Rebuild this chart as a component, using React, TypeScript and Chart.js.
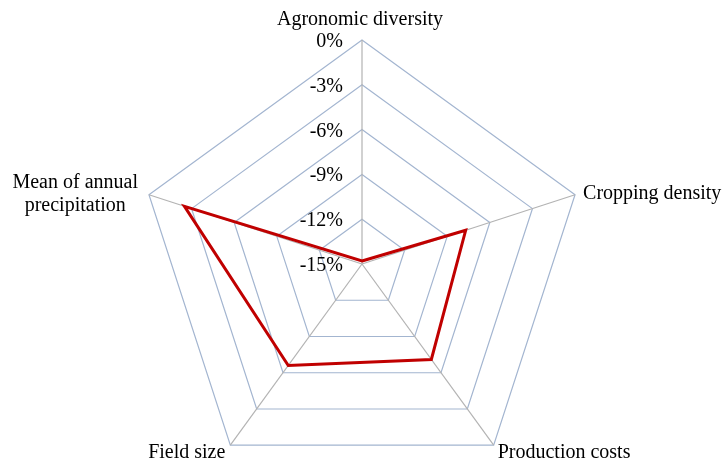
import React, { useEffect, useRef } from "react";
import { Chart, registerables } from "chart.js";

Chart.register(...registerables);

const categories: (string | string[])[] = [
  "Agronomic diversity",
  "Cropping density",
  "Production costs",
  "Field size",
  ["Mean of annual", "precipitation"],
];
const seriesValues = [-14.8, -7.7, -7.1, -6.6, -2.5];
const scaleMin = -15;
const scaleMax = 0;
const scaleStep = 3;

const FONT = "20px 'Liberation Serif', 'Times New Roman', serif";

const labelPlugin = {
  id: "customLabels",
  afterDraw(chart: any) {
    const scale = chart.scales.r;
    const ctx = chart.ctx as CanvasRenderingContext2D;
    ctx.save();
    ctx.fillStyle = "#000000";
    ctx.font = FONT;
    // tick labels, right aligned left of the vertical axis
    ctx.textAlign = "right";
    ctx.textBaseline = "alphabetic";
    scale.ticks.forEach((t: any) => {
      const d = scale.getDistanceFromCenterForValue(t.value);
      ctx.fillText(t.label, scale.xCenter - 19, scale.yCenter - d + 7);
    });
    // point labels
    const labels = chart.data.labels as (string | string[])[];
    const lh = 23;
    labels.forEach((lab, i) => {
      const lines = Array.isArray(lab) ? lab : [lab];
      const p = scale.getPointPosition(i, scale.drawingArea);
      const dx = p.x - scale.xCenter;
      const dy = p.y - scale.yCenter;
      const bw = Math.max(...lines.map((l) => ctx.measureText(l).width));
      let cx: number;
      let firstBase: number;
      const m = lines.length;
      if (Math.abs(dx) < 1) {
        cx = p.x - 2;
        firstBase = p.y - 15 - (m - 1) * lh;
      } else if (dy < 0) {
        const x = dx > 0 ? p.x + 8 : p.x - 11;
        cx = dx > 0 ? x + bw / 2 : x - bw / 2;
        const center = p.y - 2;
        firstBase = center - ((m - 1) / 2) * lh + 6.5;
      } else {
        const x = dx > 0 ? p.x + 4 : p.x - 5;
        cx = dx > 0 ? x + bw / 2 : x - bw / 2;
        firstBase = p.y + 13;
      }
      ctx.textAlign = "center";
      lines.forEach((l, k) => ctx.fillText(l, cx, firstBase + k * lh));
    });
    ctx.restore();
  },
};

export default function App() {
  const ref = useRef<HTMLCanvasElement | null>(null);
  useEffect(() => {
    if (!ref.current) return;
    const chart = new Chart(ref.current, {
      type: "radar",
      data: {
        labels: categories as any,
        datasets: [
          {
            label: "Change",
            data: seriesValues,
            borderColor: "#c00000",
            borderWidth: 3,
            backgroundColor: "rgba(0,0,0,0)",
            fill: false,
            pointRadius: 0,
            pointHoverRadius: 0,
            tension: 0,
          },
        ],
      },
      options: {
        animation: false,
        responsive: true,
        maintainAspectRatio: false,
        layout: { padding: { left: 138, right: 138, top: 40, bottom: 0 } },
        plugins: { legend: { display: false }, tooltip: { enabled: false } },
        scales: {
          r: {
            min: scaleMin,
            max: scaleMax,
            ticks: {
              stepSize: scaleStep,
              display: false,
              callback: (v: any) => `${v}%`,
            },
            pointLabels: { display: false },
            grid: { color: "#a3b5d0", lineWidth: 1.2 },
            angleLines: { color: "#b3b3b3", lineWidth: 1.2 },
          },
        },
      },
      plugins: [labelPlugin],
    });
    return () => chart.destroy();
  }, []);
  return (
    <div style={{ position: "fixed", left: 0, top: 0, width: 724, height: 459, overflow: "hidden", background: "#fff" }}>
      <div style={{ position: "relative", width: 724, height: 488 }}>
        <canvas ref={ref} />
      </div>
    </div>
  );
}
